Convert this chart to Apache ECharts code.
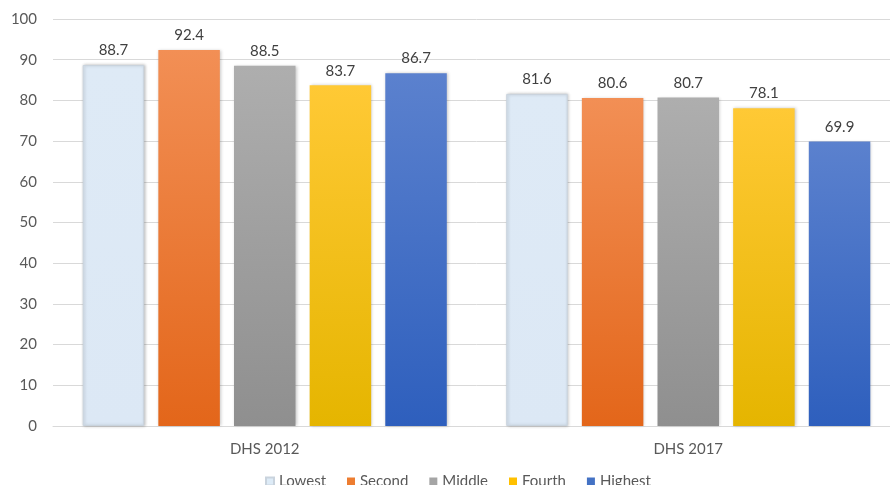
<!DOCTYPE html>
<html>
<head>
<meta charset="utf-8">
<script src="https://cdn.jsdelivr.net/npm/echarts@6/dist/echarts.min.js"></script>
<style>
  html, body { margin: 0; padding: 0; background: #fff; overflow: hidden; }
  #chart { width: 900px; height: 485px; }
</style>
</head>
<body>
<div id="chart"></div>
<script>
// Survey rounds on the x axis
const categories = ['DHS 2012', 'DHS 2017'];

// Wealth quintile series, one value per survey round
const seriesNames = ['Lowest', 'Second', 'Middle', 'Fourth', 'Highest'];
const lowest  = [88.7, 81.6];
const second  = [92.4, 80.6];
const middle  = [88.5, 80.7];
const fourth  = [83.7, 78.1];
const highest = [86.7, 69.9];

// Colour pairs per quintile: top of bar, bottom of bar
const topColors    = ['#DEEAF6', '#F28F55', '#AEAEAE', '#FFC935', '#5B81CE'];
const bottomColors = ['#DCE8F5', '#E3661A', '#8F8F8F', '#E5B500', '#2E5FBD'];
const legendColors = ['#DDEBF7', '#ED7D31', '#A5A5A5', '#FFC000', '#4472C4'];

const values = [lowest, second, middle, fourth, highest];
const fontFamily = 'Lato, "Liberation Sans", sans-serif';

const chart = echarts.init(document.getElementById('chart'));

const series = seriesNames.map((name, i) => ({
  name: name,
  type: 'bar',
  data: values[i],
  barWidth: 61.5,
  barGap: '23%',
  itemStyle: {
    color: new echarts.graphic.LinearGradient(0, 0, 0, 1, [
      { offset: 0, color: topColors[i] },
      { offset: 1, color: bottomColors[i] }
    ]),
    borderColor: i === 0 ? '#C9D3DD' : 'rgba(0,0,0,0)',
    borderWidth: i === 0 ? 1 : 0,
    shadowColor: 'rgba(0,0,0,0.22)',
    shadowBlur: 3,
    shadowOffsetX: 1,
    shadowOffsetY: 0
  },
  label: {
    show: true,
    position: 'top',
    distance: 7,
    color: '#404040',
    fontSize: 15,
    fontFamily: fontFamily,
    formatter: p => p.value.toFixed(1)
  }
}));

chart.setOption({
  animation: false,
  backgroundColor: '#ffffff',
  color: legendColors,
  grid: { left: 53, top: 19, right: 0, height: 407 },
  legend: {
    data: seriesNames.map((n, i) => ({ name: n, itemStyle: { color: legendColors[i] } })),
    top: 469,
    left: 260,
    itemWidth: 8,
    itemHeight: 8,
    itemGap: 21,
    icon: 'rect',
    textStyle: { color: '#595959', fontSize: 15, fontFamily: fontFamily }
  },
  xAxis: {
    type: 'category',
    data: categories,
    axisLine: { lineStyle: { color: '#D9D9D9', width: 1 } },
    axisTick: { show: false },
    axisLabel: { color: '#595959', fontSize: 15, fontFamily: fontFamily, margin: 16 }
  },
  yAxis: {
    type: 'value',
    min: 0,
    max: 100,
    interval: 10,
    axisLine: { show: false },
    axisTick: { show: false },
    splitLine: { lineStyle: { color: '#D9D9D9', width: 1 } },
    axisLabel: { color: '#595959', fontSize: 15, fontFamily: fontFamily, margin: 16 }
  },
  series: series
});
</script>
</body>
</html>
